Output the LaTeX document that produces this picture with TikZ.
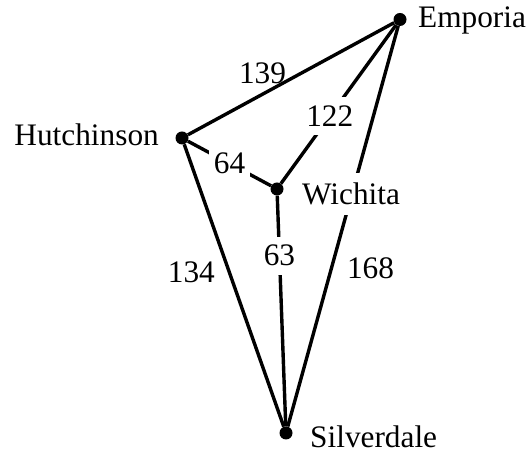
\documentclass[tikz,border=0pt]{standalone}
\usepackage{fontspec}
\setmainfont{Liberation Serif}
\begin{document}
\begin{tikzpicture}[x=1pt,y=1pt,
  town/.style={circle,fill=black,inner sep=0pt,minimum size=13pt},
  road/.style={line width=3.4pt},
  townname/.style={inner sep=0pt,font=\fontsize{31.3}{37}\selectfont},
  dist/.style={inner sep=0pt,font=\fontsize{31.3}{37}\selectfont},
  cut/.style={dist,fill=white,inner xsep=5pt,inner ysep=8.5pt}]
\useasboundingbox (0,0) rectangle (528,455);

% towns
\node[town] (E) at (400,435.5) {};
\node[town] (H) at (182,317) {};
\node[town] (W) at (277,266) {};
\node[town] (S) at (286,22) {};

% roads with distances
\draw[road] (H) -- node[dist,pos=0.362,yshift=21pt] (d139) {139} (E);
\draw[road] (E) -- node[cut,pos=0.576] (d122) {122} (W);
\draw[road] (H) -- node[cut,pos=0.5] (d64) {64} (W);
\draw[road] (W) -- node[cut,pos=0.26] (d63) {63} (S);
\draw[road] (H) -- node[dist,pos=0.454,xshift=-38pt] (d134) {134} (S);
\draw[road] (E) -- node[dist,pos=0.604,xshift=39pt] (d168) {168} (S);

% town names, drawn over the roads
\node[townname,anchor=base west] (En) at (418,427) {Emporia};
\node[townname,anchor=base east] (Hn) at (159,309.3) {Hutchinson};
\node[townname,anchor=base west,fill=white,inner xsep=3pt,
      text depth=0pt,inner ysep=10pt] (Wn) at (299,250) {Wichita};
\node[townname,anchor=base west] (Sn) at (310,7) {Silverdale};
\end{tikzpicture}
\end{document}
